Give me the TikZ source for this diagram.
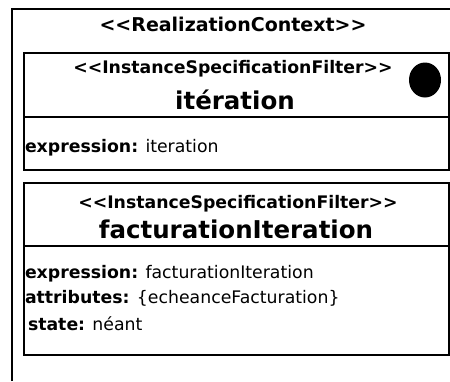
\documentclass[tikz,border=0pt]{standalone}
\usepackage{fontspec}
\usetikzlibrary{shapes.geometric}
\setmainfont{DejaVu Sans}[Ligatures=TeXOff]
\newcommand{\fsz}[1]{\fontsize{#1}{#1}\selectfont}
\tikzset{
  boxline/.style={line width=1.5pt},
  divline/.style={line width=1.2pt},
  txt/.style={anchor=base, inner sep=0pt, outer sep=0pt},
  lefttxt/.style={anchor=base west, inner sep=0pt, outer sep=0pt, font=\fsz{17.3}},
  stereo/.style={txt, font=\bfseries\fsz{17.3}},
  bigname/.style={txt, font=\bfseries\fsz{24.5}},
}
\begin{document}
\begin{tikzpicture}[x=1pt,y=-1pt]
\useasboundingbox (0,0) rectangle (450,381);
% outer context frame (cut by picture edges)
\draw[boxline] (12,381) -- (12,9) -- (451,9);
\node[txt, font=\bfseries\fsz{19}] (ctx) at (233,31) {<<RealizationContext>>};
% box 1
\draw[boxline] (24,53) rectangle (449,170);
\draw[divline] (24,117) -- (449,117);
\node[stereo] (st1) at (233,73) {<<InstanceSpecificationFilter>>};
\node[bigname] (n1) at (235,109) {itération};
\node[draw=none, fill=black, ellipse, minimum width=32pt, minimum height=35pt, inner sep=0pt] (dot) at (425,80) {};
\node[lefttxt] (e1) at (25,152) {\textbf{expression:} iteration};
% box 2
\draw[boxline] (24,183) rectangle (449,355);
\draw[divline] (24,246) -- (449,246);
\node[stereo] (st2) at (238,208) {<<InstanceSpecificationFilter>>};
\node[bigname] (n2) at (236,238) {facturationIteration};
\node[lefttxt] (e2) at (25,278) {\textbf{expression:} facturationIteration};
\node[lefttxt] (a2) at (25,303) {\textbf{attributes:} \{echeanceFacturation\}};
\node[lefttxt] (s2) at (28,330) {\textbf{state:} néant};
\end{tikzpicture}
\end{document}
